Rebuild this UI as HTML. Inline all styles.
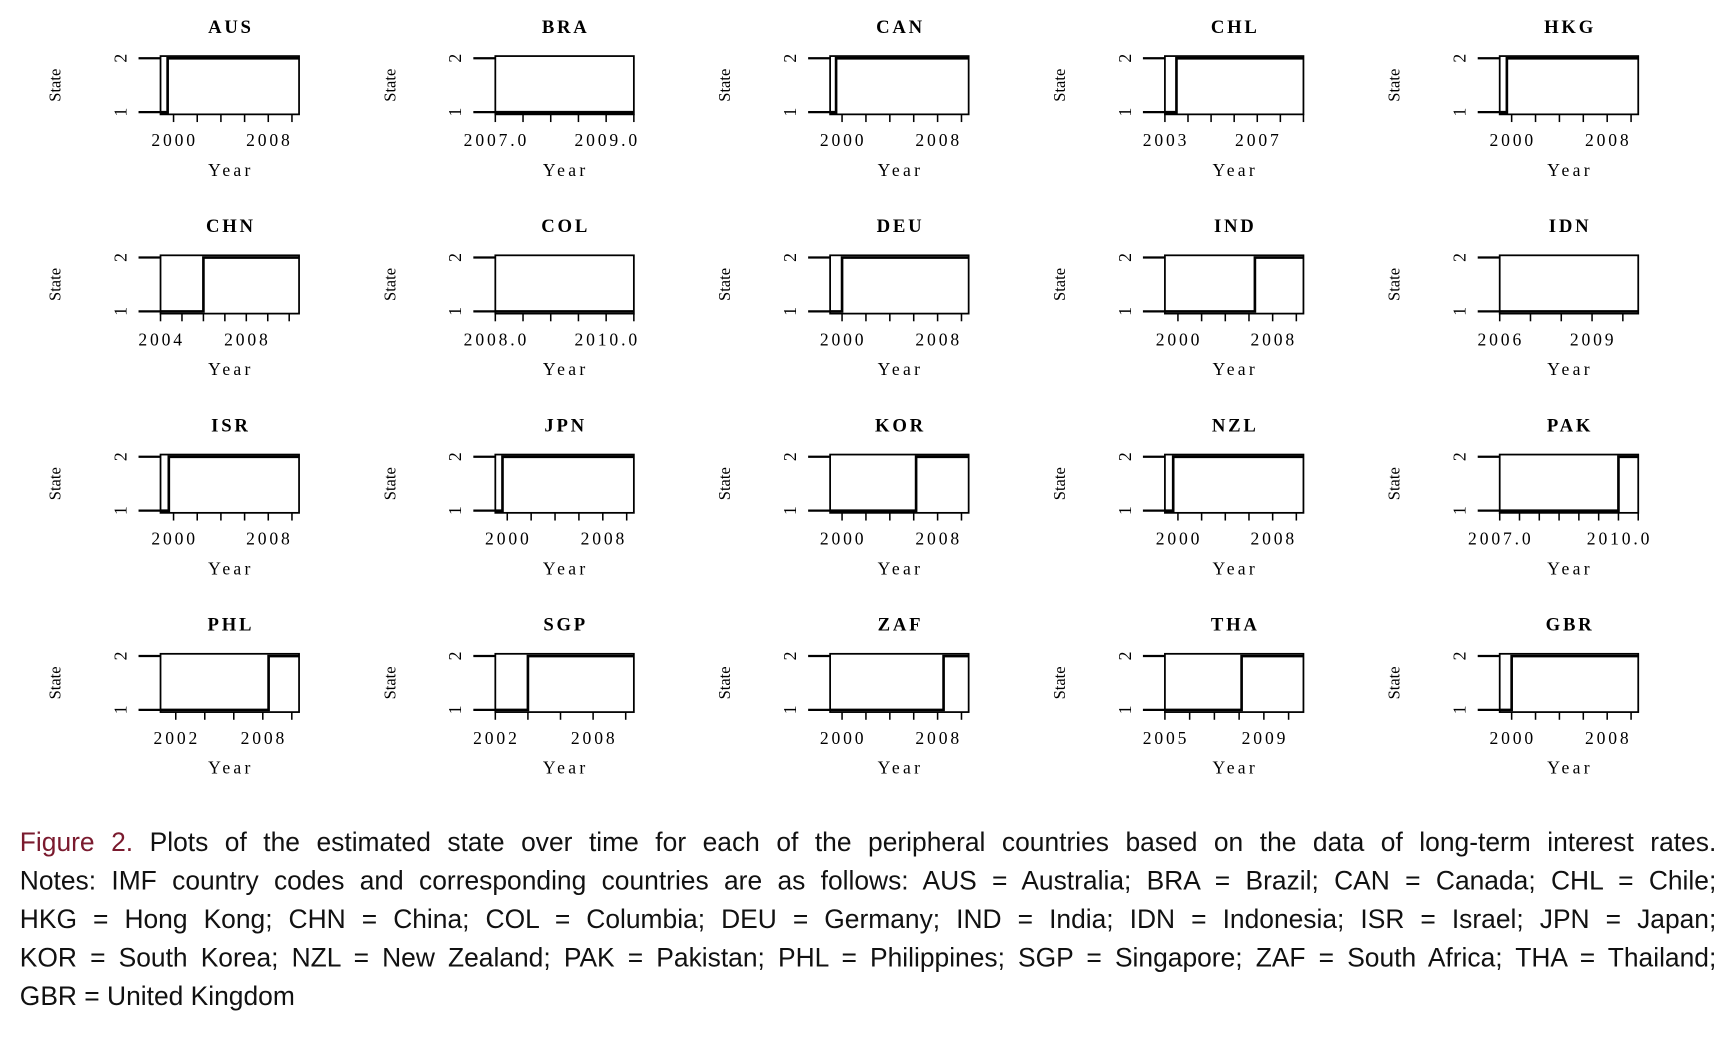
<!DOCTYPE html>
<html><head><meta charset="utf-8"><style>
html,body{margin:0;padding:0;background:#fff;width:1724px;height:1038px;overflow:hidden}
#wrap{position:absolute;left:0;top:0;width:1568px;height:944px;transform:scale(1.09949,1.09958);transform-origin:0 0}
svg text{font-family:"Liberation Serif",serif}
.cap{position:absolute;left:18px;width:1543px;font-family:"Liberation Sans",sans-serif;font-size:24px;line-height:35px;text-align:justify;text-align-last:justify;white-space:nowrap;color:#111}
.last{text-align-last:left}
</style></head><body>
<div id="wrap">
<svg id="chart" width="1568" height="944" viewBox="0 0 1568 944"></svg>
<div class="cap" style="top:749px"><span style="color:#7a1a2e">Figure 2.</span> Plots of the estimated state over time for each of the peripheral countries based on the data of long-term interest rates.</div>
<div class="cap" style="top:784px">Notes: IMF country codes and corresponding countries are as follows: AUS = Australia; BRA = Brazil; CAN = Canada; CHL = Chile;</div>
<div class="cap" style="top:819px">HKG = Hong Kong; CHN = China; COL = Columbia; DEU = Germany; IND = India; IDN = Indonesia; ISR = Israel; JPN = Japan;</div>
<div class="cap" style="top:854px">KOR = South Korea; NZL = New Zealand; PAK = Pakistan; PHL = Philippines; SGP = Singapore; ZAF = South Africa; THA = Thailand;</div>
<div class="cap last" style="top:889px">GBR = United Kingdom</div>
</div>
<script>
const countries = ["AUS","BRA","CAN","CHL","HKG","CHN","COL","DEU","IND","IDN","ISR","JPN","KOR","NZL","PAK","PHL","SGP","ZAF","THA","GBR"];
const xMins = [1998.9,2007.0,1999.0,2003.0,1999.0,2004.0,2008.0,1999.0,1998.9,2006.0,1998.9,1999.0,1999.0,1998.9,2007.0,2000.95,2002.0,1999.0,2005.0,1999.0];
const xMaxs = [2010.6,2009.5,2010.6,2009.0,2010.6,2010.46,2010.5,2010.6,2010.6,2010.5,2010.6,2010.6,2010.6,2010.6,2010.5,2010.5,2010.5,2010.6,2010.6,2010.6];
const switchYears = [1999.5,2009.5,1999.5,2003.5,1999.6,2006.0,2010.5,2000.0,2006.5,2010.5,1999.6,1999.6,2006.2,1999.6,2010.0,2008.4,2004.0,2008.5,2008.1,2000.0];
const statesBefore = [1,1,1,1,1,1,1,1,1,1,1,1,1,1,1,1,1,1,1,1];
const statesAfter  = [2,1,2,2,2,2,1,2,2,1,2,2,2,2,2,2,2,2,2,2];
const tickSteps = [2,0.5,2,1,2,1,0.5,2,2,1,2,2,2,2,0.5,2,2,2,1,2];
const tickLabelsA = ["2000","2007.0","2000","2003","2000","2004","2008.0","2000","2000","2006","2000","2000","2000","2000","2007.0","2002","2002","2000","2005","2000"];
const tickLabelsB = ["2008","2009.0","2008","2007","2008","2008","2010.0","2008","2008","2009","2008","2008","2008","2008","2010.0","2008","2008","2008","2009","2008"];

const NS="http://www.w3.org/2000/svg";
const svg=document.getElementById('chart');
function mk(tag,attrs,parent){const e=document.createElementNS(NS,tag);for(const k in attrs)e.setAttribute(k,attrs[k]);(parent||svg).appendChild(e);return e;}
const W=126,H=53;
countries.forEach((name,i)=>{
  const c=i%5,r=Math.floor(i/5);
  const L=146+304.5*c, T=51+181.2*r, B=T+H, R=L+W;
  const xs=v=>L+(v-xMins[i])/(xMaxs[i]-xMins[i])*W;
  const ys=v=>(B-2)-(v-1)*(H-4);
  const g=mk('g',{});
  
  
  const t=mk('text',{x:L+W/2+1,y:T-21,'text-anchor':'middle','font-size':'17','font-weight':'bold','letter-spacing':'2.5'},g);
  t.textContent=name;
  
  
  const fr=mk('rect',{x:L,y:T,width:W,height:H,fill:'none',stroke:'#000','stroke-width':'1.6'},g);
  
  
  [1,2].forEach(v=>{
    const y=ys(v);
    const tk=mk('line',{x1:L-20,x2:L,y1:y,y2:y,stroke:'#000','stroke-width':'2'},g);
    
    
    const lb=mk('text',{x:0,y:0,'text-anchor':'middle','font-size':'16',transform:`translate(${L-31},${y}) rotate(-90)`},g);
    lb.textContent=String(v);
    
    
  });
  const st=mk('text',{x:0,y:0,'text-anchor':'middle','font-size':'15',transform:`translate(${L-91},${T+H/2}) rotate(-90)`},g);
  st.textContent='State';
  
  
  const step=tickSteps[i];
  let v0=Math.ceil((xMins[i]-1e-6)/step)*step;
  for(let v=v0; v<=xMaxs[i]+1e-6; v+=step){
    const x=xs(v);
    const tk=mk('line',{x1:x,x2:x,y1:B,y2:B+7,stroke:'#000','stroke-width':'1.4'},g);
    
    
  }
  [tickLabelsA[i],tickLabelsB[i]].forEach(s=>{
    const lb=mk('text',{x:xs(parseFloat(s))+1,y:B+29,'text-anchor':'middle','font-size':'16','letter-spacing':'2.6'},g);
    lb.textContent=s;
    
    
  });
  const yr=mk('text',{x:L+W/2+1,y:B+56,'text-anchor':'middle','font-size':'16','letter-spacing':'3'},g);
  yr.textContent='Year';
  
  
  const sx=xs(switchYears[i]);
  const pts=[[xs(xMins[i]),ys(statesBefore[i])],[sx,ys(statesBefore[i])],[sx,ys(statesAfter[i])],[xs(xMaxs[i]),ys(statesAfter[i])]];
  const pl=mk('polyline',{points:pts.map(p=>p.join(',')).join(' '),fill:'none',stroke:'#000','stroke-width':'2.4'},g);
  
  
});
</script>
</body></html>
